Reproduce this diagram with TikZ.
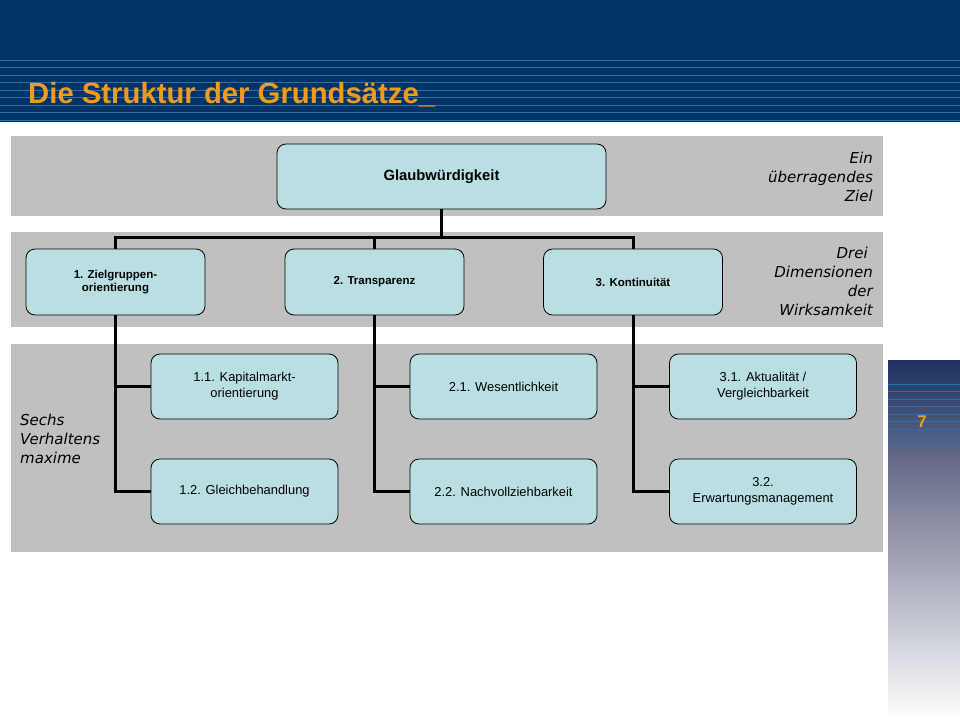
\documentclass[tikz,border=0pt]{standalone}
\usepackage{fontspec}
\setmainfont{Liberation Sans}
\newfontfamily\labfont{DejaVu Sans}
\definecolor{navy}{RGB}{0,51,102}
\definecolor{stripe}{RGB}{45,112,165}
\definecolor{orng}{RGB}{240,155,30}
\definecolor{bandgray}{RGB}{192,192,192}
\definecolor{boxfill}{RGB}{186,223,227}
\definecolor{bartop}{RGB}{28,50,95}
\definecolor{barmid}{RGB}{108,112,140}
\definecolor{barstripe}{RGB}{40,110,180}
\tikzset{
  box/.style={draw=black, line width=0.8pt, fill=boxfill, rounded corners=9pt, align=center, inner sep=0pt},
  lvlone/.style={box, minimum width=329pt, minimum height=65pt, font=\fontsize{14.8}{17}\selectfont\bfseries},
  lvltwo/.style={box, minimum width=179pt, minimum height=66pt, font=\fontsize{11.5}{13.5}\selectfont\bfseries},
  lvlthree/.style={box, minimum width=187pt, minimum height=65pt, font=\fontsize{12.9}{16}\selectfont},
  conn/.style={line width=3pt},
  lab/.style={inner sep=0pt, font=\labfont\itshape\fontsize{15}{19}\selectfont},
  band/.style={fill=bandgray},
}
\begin{document}
\begin{tikzpicture}[x=1pt,y=-1pt]
\useasboundingbox (0,0) rectangle (960,720);
\fill[white] (0,0) rectangle (960,720);
% header
\fill[navy] (0,0) rectangle (960,122);
\foreach \i in {0,...,8} \draw[stripe, line width=1pt] (0,60+7.5*\i) -- (960,60+7.5*\i);
\node[anchor=base west, inner sep=0pt, text=orng, font=\fontsize{29.3}{31}\selectfont\bfseries] (title) at (28,103) {Die Struktur der Grundsätze\_};
% bands
\fill[band] (11,136) rectangle (883,216);
\fill[band] (11,232) rectangle (883,327);
\fill[band] (11,344) rectangle (883,552);
% right bar
\shade[top color=bartop, bottom color=barmid] (888,360) rectangle (960,470);
\shade[top color=barmid, bottom color=white] (888,469.5) rectangle (960,720);
\foreach \i in {0,...,8} \draw[barstripe, line width=0.8pt] (888,384+7.5*\i) -- (960,384+7.5*\i);
\node[text=orng, font=\fontsize{17}{19}\selectfont\bfseries] (pg) at (922,422) {7};
% labels
\node[lab, anchor=base east, align=right] (l1) at (873,201) {Ein\\überragendes\\Ziel};
\node[lab, anchor=base east, align=right] (l2) at (873,315) {Drei\hspace*{5pt}\\Dimensionen\\der\hspace*{5pt}\\Wirksamkeit};
\node[lab, anchor=base west, align=left] (l3) at (20,463) {Sechs\\Verhaltens\\maxime};
% nodes
\node[lvlone] (G) at (441.5,176.5) {Glaubwürdigkeit};
\node[lvltwo] (A) at (115.5,282) {1. Zielgruppen-\\orientierung};
\node[lvltwo] (B) at (374.5,282) {2. Transparenz};
\node[lvltwo] (C) at (633,282) {3. Kontinuität};
\node[lvlthree] (A1) at (244.5,386.5) {1.1. Kapitalmarkt-\\orientierung};
\node[lvlthree] (A2) at (244.5,491.5) {1.2. Gleichbehandlung};
\node[lvlthree] (B1) at (503.5,386.5) {2.1. Wesentlichkeit};
\node[lvlthree] (B2) at (503.5,491.5) {2.2. Nachvollziehbarkeit};
\node[lvlthree] (C1) at (763,386.5) {3.1. Aktualität /\\Vergleichbarkeit};
\node[lvlthree] (C2) at (763,491.5) {3.2.\\Erwartungsmanagement};
\coordinate (j) at (441.5,237);
% connectors
\draw[conn] (G.south) -- (j);
\draw[conn] (A.north) |- (j) -| (C.north);
\draw[conn] (B.north) -- (B.north |- j);
\draw[conn] (A.south) |- (A2.west);
\draw[conn] (A.south |- A1.west) -- (A1.west);
\draw[conn] (B.south) |- (B2.west);
\draw[conn] (B.south |- B1.west) -- (B1.west);
\draw[conn] (C.south) |- (C2.west);
\draw[conn] (C.south |- C1.west) -- (C1.west);
\end{tikzpicture}
\end{document}
